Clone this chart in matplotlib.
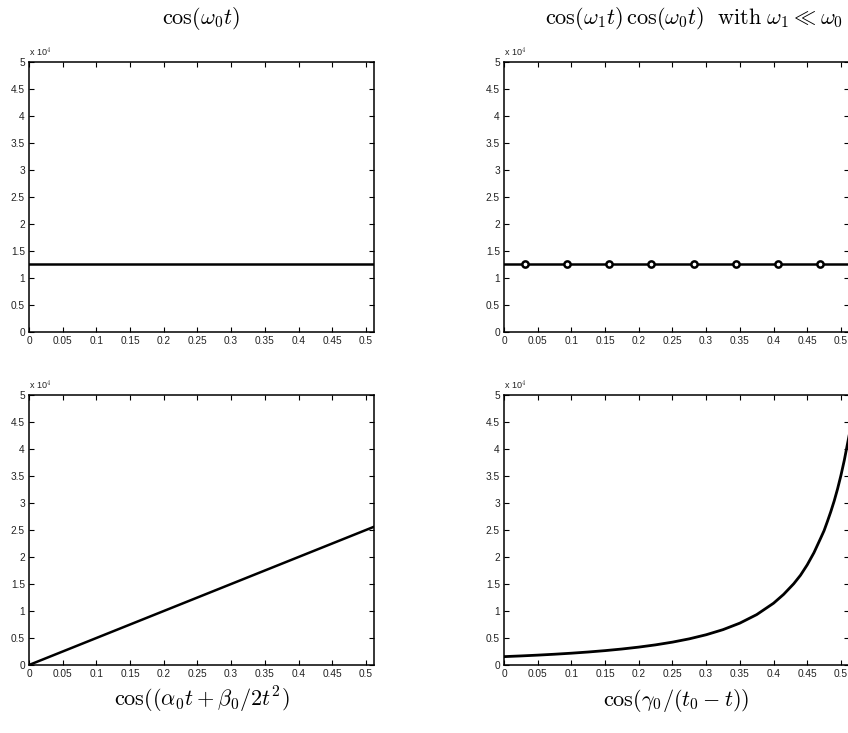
"""
Fréquences instantanées de quatre signaux (style MATLAB, 2x2)
"""

import matplotlib
matplotlib.use("Agg")
import matplotlib.pyplot as plt
import numpy as np

# --- données ----------------------------------------------------------
x_ticks = [0, 0.05, 0.1, 0.15, 0.2, 0.25, 0.3, 0.35, 0.4, 0.45, 0.5]
x_tick_labels = ["0", "0.05", "0.1", "0.15", "0.2", "0.25", "0.3", "0.35", "0.4", "0.45", "0.5"]
y_ticks = [0, 5000, 10000, 15000, 20000, 25000, 30000, 35000, 40000, 45000, 50000]
y_tick_labels = ["0", "0.5", "1", "1.5", "2", "2.5", "3", "3.5", "4", "4.5", "5"]

# cos(w0 t) : fréquence constante
t_const = [0, 0.512]
f_const = [12500, 12500]

# cos(w1 t) cos(w0 t) : marqueurs
t_marks = [0.03125, 0.09375, 0.15625, 0.21875, 0.28125, 0.34375, 0.40625, 0.46875]
f_marks = [12500, 12500, 12500, 12500, 12500, 12500, 12500, 12500]

# chirp linéaire
t_lin = [0, 0.512]
f_lin = [0, 25600]

# chirp hyperbolique
t_hyp = [0, 0.025, 0.05, 0.075, 0.1, 0.125, 0.15, 0.175, 0.2, 0.225, 0.25,
         0.275, 0.3, 0.325, 0.35, 0.375, 0.4, 0.415, 0.43, 0.44, 0.45, 0.46,
         0.47, 0.475, 0.48, 0.485, 0.49, 0.495, 0.5, 0.505, 0.512]
f_hyp = [1550, 1680, 1827, 1995, 2186, 2407, 2662, 2961, 3313, 3731, 4234,
         4846, 5601, 6547, 7755, 9331, 11440, 13080, 15050, 16620, 18545, 20800,
         23500, 24880, 26600, 28400, 30370, 32600, 35100, 37900, 42400]

titles_top = [r"$\cos(\omega_0 t)$",
              r"$\cos(\omega_1 t)\,\cos(\omega_0 t)\ \ \mathrm{with}\ \omega_1 \ll \omega_0$"]
labels_bottom = [r"$\cos((\alpha_0 t+\beta_0/2t^2)$",
                 r"$\cos(\gamma_0/(t_0-t))$"]

plt.rcParams["mathtext.fontset"] = "cm"
plt.rcParams["font.family"] = ["Liberation Sans", "DejaVu Sans"]

W, H = 848, 733
fig = plt.figure(figsize=(W / 100, H / 100), dpi=100)

# positions des axes (pixels)
col_x = [29, 504]
row_top = [62, 395]
ax_w, ax_h = 345, 270


def make_axes(x0, ytop):
    ax = fig.add_axes([x0 / W, 1 - (ytop + ax_h) / H, ax_w / W, ax_h / H])
    ax.set_xlim(0, 0.512)
    ax.set_ylim(0, 50000)
    ax.set_xticks(x_ticks)
    ax.set_xticklabels(x_tick_labels)
    ax.set_yticks(y_ticks)
    ax.set_yticklabels(y_tick_labels)
    ax.tick_params(direction="in", length=3.5, width=0.8, labelsize=7.3,
                   labelcolor="#222222", top=True, right=True, pad=3)
    for s in ax.spines.values():
        s.set_linewidth(1.1)
    ax.text(0, 1.012, r"x 10$^{4}$", transform=ax.transAxes,
            ha="left", va="bottom", fontsize=6.5, color="#222222")
    return ax


ax1 = make_axes(col_x[0], row_top[0])
ax1.plot(t_const, f_const, color="black", lw=1.8)

ax2 = make_axes(col_x[1], row_top[0])
ax2.plot(t_const, f_const, color="black", lw=1.8)
ax2.plot(t_marks, f_marks, "o", color="black", mfc="white", mec="black",
         ms=4.5, mew=1.8)

ax3 = make_axes(col_x[0], row_top[1])
ax3.plot(t_lin, f_lin, color="black", lw=1.8)

ax4 = make_axes(col_x[1], row_top[1])
ax4.plot(t_hyp, f_hyp, color="black", lw=2.0)

# titres et légendes en police Computer Modern
title_cx = [201, 694]
for i, txt in enumerate(titles_top):
    fig.text(title_cx[i] / W, 1 - 18 / H, txt, ha="center", va="center", fontsize=16)
for i, txt in enumerate(labels_bottom):
    cx = (col_x[i] + ax_w / 2) / W
    fig.text(cx, 1 - 700 / H, txt, ha="center", va="center", fontsize=16)

fig.savefig("out.png", dpi=100)
